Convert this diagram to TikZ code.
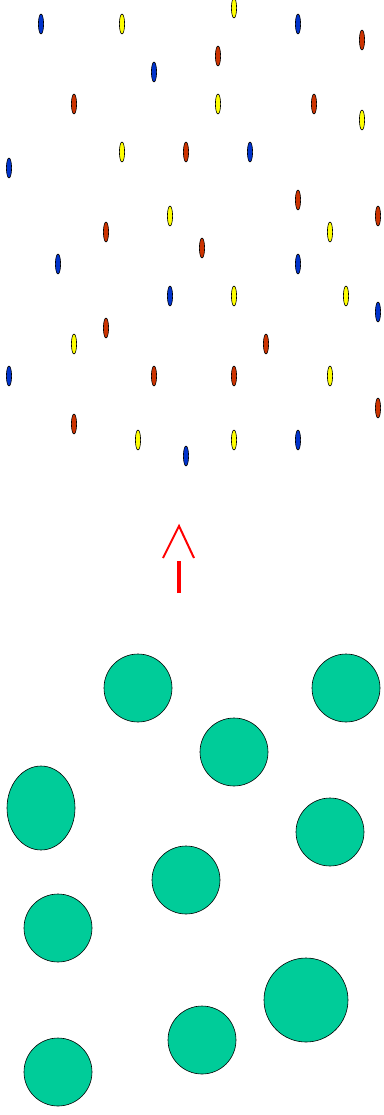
\documentclass[tikz,border=0pt]{standalone}
\usepackage{tikz}
\usepackage{xcolor}

\definecolor{dropblue}{RGB}{0,51,204}
\definecolor{dropyellow}{RGB}{255,255,0}
\definecolor{dropred}{RGB}{204,51,0}
\definecolor{blobgreen}{RGB}{0,204,153}

\begin{document}
\begin{tikzpicture}[x=1pt, y=-1pt,
	drop/.style={draw=black, line width=0.6pt},
	blob/.style={draw=black, line width=0.6pt, fill=blobgreen}]
	\useasboundingbox (0,0) rectangle (383,1115);
	
	% Small particles (top)
	\foreach \px/\py in {41/24, 298/24, 154/72, 250/152, 9/168, 58/264, 298/264, 170/296, 378/312, 9/376, 298/440, 186/456}
		\draw[drop, fill=dropblue] (\px,\py) ellipse (2.6 and 10);
	\foreach \px/\py in {122/24, 234/8, 218/104, 362/120, 122/152, 170/216, 330/232, 234/296, 346/296, 74/344, 330/376, 138/440, 234/440}
		\draw[drop, fill=dropyellow] (\px,\py) ellipse (2.6 and 10);
	\foreach \px/\py in {362/40, 218/56, 74/104, 314/104, 186/152, 298/200, 378/216, 106/232, 202/248, 106/328, 266/344, 154/376, 234/376, 378/408, 74/424}
		\draw[drop, fill=dropred] (\px,\py) ellipse (2.6 and 10);
	
	% Arrow
	\coordinate (tail) at (179,593);
	\coordinate (shafttop) at (179,561);
	\coordinate (tip) at (179,526);
	\coordinate (barbL) at (163,558);
	\coordinate (barbR) at (194,558);
	\draw[red, line width=4pt] (tail) -- (shafttop);
	\draw[red, line width=2pt] (barbL) -- (tip) -- (barbR);
	
	% Large particles (bottom)
	\draw[blob] (138,688) circle (34);
	\draw[blob] (346,688) circle (34);
	\draw[blob] (234,752) circle (34);
	\draw[blob] (41,808) ellipse (34 and 42);
	\draw[blob] (330,832) circle (34);
	\draw[blob] (186,880) circle (34);
	\draw[blob] (58,928) circle (34);
	\draw[blob] (306,1000) circle (42);
	\draw[blob] (202,1040) circle (34);
	\draw[blob] (58,1072) circle (34);
\end{tikzpicture}
\end{document}
